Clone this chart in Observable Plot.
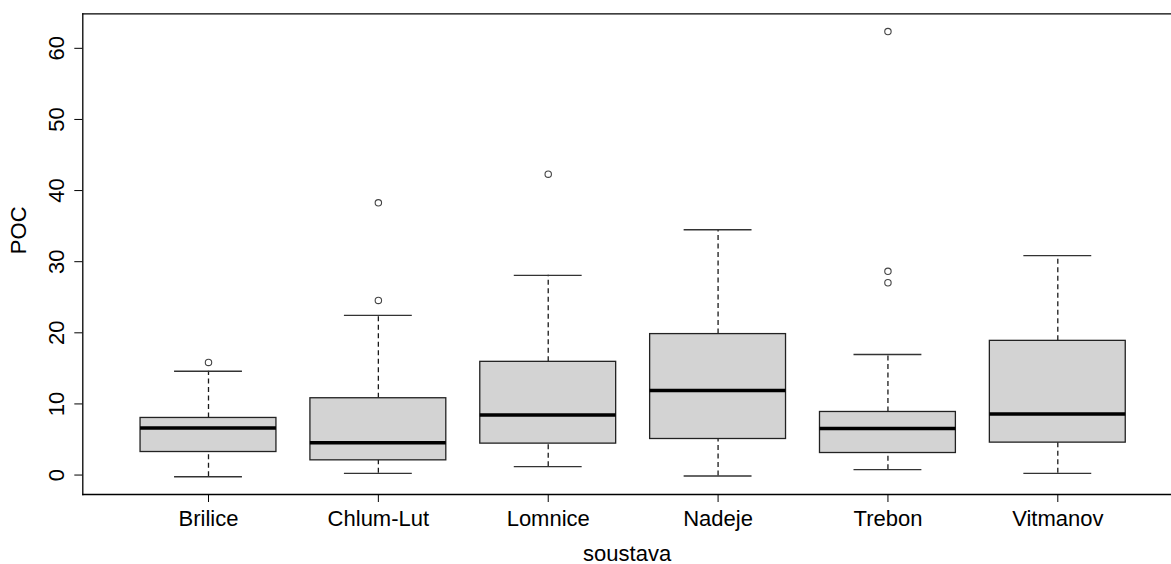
<!DOCTYPE html>
<html>
<head>
<meta charset="utf-8">
<script src="https://cdn.jsdelivr.net/npm/d3@7"></script>
<script src="https://cdn.jsdelivr.net/npm/@observablehq/plot@0.6"></script>
<style>
  html, body { margin: 0; padding: 0; background: #fff; overflow: hidden; }
  #chart svg { display: block; }
</style>
</head>
<body>
<div id="chart"></div>
<script>
// ---- data ----
const categories   = ["Brilice", "Chlum-Lut", "Lomnice", "Nadeje", "Trebon", "Vitmanov"];
const lowerWhisker = [-0.23, 0.24, 1.18, -0.14, 0.76, 0.24];
const q1           = [3.24, 2.07, 4.42, 5.07, 3.10, 4.56];
const median       = [6.62, 4.56, 8.45, 11.89, 6.53, 8.59];
const q3           = [8.03, 10.80, 15.92, 19.82, 8.87, 18.87];
const upperWhisker = [14.60, 22.45, 28.08, 34.50, 16.96, 30.85];
const outlierCategory = ["Brilice", "Chlum-Lut", "Chlum-Lut", "Lomnice", "Trebon", "Trebon", "Trebon"];
const outlierValue    = [15.83, 38.27, 24.56, 42.30, 62.35, 28.65, 27.04];
const yTicks = [0, 10, 20, 30, 40, 50, 60];
const xTitle = "soustava";
const yTitle = "POC";

const boxes = categories.map((c, i) => ({
  cat: c, lo: lowerWhisker[i], q1: q1[i], med: median[i], q3: q3[i], hi: upperWhisker[i]
}));
const outliers = outlierCategory.map((c, i) => ({cat: c, v: outlierValue[i]}));

// R-style 4% axis extension
const allVals = [...lowerWhisker, ...upperWhisker, ...outlierValue];
const vmin = d3.min(allVals), vmax = d3.max(allVals);
const ext = (vmax - vmin) * 0.04;

const FONT = "'Liberation Sans', Arial, sans-serif";
const INK = "#1a1a1a";
const FS = 22;

const chart = Plot.plot({
  width: 1171,
  height: 564,
  marginLeft: 82.3,
  marginRight: 0,
  marginTop: 13.3,
  marginBottom: 70,
  style: {fontSize: FS + "px", fontFamily: FONT, color: "#000", background: "#fff"},
  x: {type: "band", domain: categories, range: [82.3, 1183], paddingInner: 0.2, paddingOuter: 0.34, align: 0.5, round: false, label: null},
  y: {domain: [vmin - ext, vmax + ext], label: null},
  marks: [
    // whiskers (dashed)
    Plot.ruleX(boxes, {x: "cat", y1: "lo", y2: "q1", stroke: INK, strokeWidth: 1.3, strokeDasharray: "5,3.5"}),
    Plot.ruleX(boxes, {x: "cat", y1: "q3", y2: "hi", stroke: INK, strokeWidth: 1.3, strokeDasharray: "5,3.5"}),
    // whisker caps
    Plot.tickY(boxes, {x: "cat", y: "lo", stroke: "#333", strokeWidth: 1.4, insetLeft: 34, insetRight: 34}),
    Plot.tickY(boxes, {x: "cat", y: "hi", stroke: "#333", strokeWidth: 1.4, insetLeft: 34, insetRight: 34}),
    // boxes
    Plot.barY(boxes, {x: "cat", y1: "q1", y2: "q3", fill: "#d3d3d3", stroke: "#222", strokeWidth: 1.3}),
    // medians
    Plot.tickY(boxes, {x: "cat", y: "med", stroke: "#000", strokeWidth: 3.5}),
    // outliers
    Plot.dot(outliers, {x: "cat", y: "v", r: 3.2, stroke: "#444", strokeWidth: 1.1, fill: "none"}),
    // frame (right side lies outside the picture)
    Plot.frame({anchor: "top", stroke: "#000", strokeWidth: 1.3}),
    Plot.frame({anchor: "bottom", stroke: "#000", strokeWidth: 1.3}),
    Plot.frame({anchor: "left", stroke: "#000", strokeWidth: 1.3}),
    // axes
    Plot.axisX({tickSize: 8, tickPadding: 8, label: null, fontSize: FS, stroke: "#000", fill: "#000"}),
    Plot.axisY(yTicks, {tickSize: 8, tickRotate: -90, tickPadding: 11, label: null, fontSize: FS, stroke: "#000", fill: "#000"}),
    // axis titles
    Plot.text([xTitle], {text: d => d, frameAnchor: "bottom", dy: 66, lineAnchor: "bottom", fontSize: FS, fill: "#000"}),
    Plot.text([yTitle], {text: d => d, frameAnchor: "left", dx: -57, rotate: -90, lineAnchor: "bottom", fontSize: FS, fill: "#000"})
  ]
});
document.getElementById("chart").appendChild(chart);
</script>
</body>
</html>
